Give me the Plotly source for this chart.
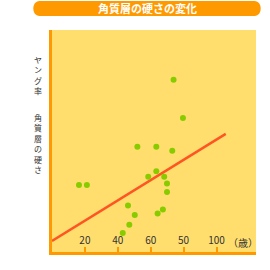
import plotly.graph_objects as go

# Data (age vs. stiffness, arbitrary units)
age = [73.9, 79.6, 51.9, 63.4, 73.1, 63.4, 58.5, 68.2, 69.9, 69.9,
       16.4, 21.2, 46.2, 50.3, 47.0, 43.0, 67.4, 64.2]
stiffness = [77.6, 60.4, 47.4, 47.4, 45.6, 36.4, 33.9, 33.9, 30.8, 27.0,
             30.2, 30.2, 21.0, 16.7, 12.3, 8.6, 19.1, 17.3]
trend_x = [0.0, 105.6]
trend_y = [5.0, 53.2]
tick_vals = [20, 40, 60, 80, 100]
tick_text = ["20", "40", "60", "50", "100"]
title = "角質層の硬さの変化"
ylabel_1 = "ヤング率"
ylabel_2 = "角質層の硬さ"
unit = "（歳）"

ORANGE = "#FF9900"
FONT = "Noto Sans CJK JP"

fig = go.Figure()
fig.add_trace(go.Scatter(x=trend_x, y=trend_y, mode="lines",
                         line=dict(color="#FF5522", width=2.5), hoverinfo="skip"))
fig.add_trace(go.Scatter(x=age, y=stiffness, mode="markers",
                         marker=dict(color="#88CC00", size=6, line=dict(width=0))))

W = 270.0
def px(x):
    return x / W
def py(y):
    return 1 - y / W

# Title pill
x0, x1, yt, yb, r = 32, 262, 1, 16, 7.5
path = (f"M {px(x0+r)},{py(yt)} L {px(x1-r)},{py(yt)} "
        f"C {px(x1+r*0.1)},{py(yt)} {px(x1+r*0.1)},{py(yb)} {px(x1-r)},{py(yb)} "
        f"L {px(x0+r)},{py(yb)} "
        f"C {px(x0-r*0.1)},{py(yb)} {px(x0-r*0.1)},{py(yt)} {px(x0+r)},{py(yt)} Z")
fig.add_shape(type="path", path=path, xref="paper", yref="paper",
              fillcolor=ORANGE, line=dict(width=0), layer="above")

annotations = [
    dict(text="<b>" + title + "</b>", x=px(147), y=py(8.5), xref="paper", yref="paper",
         showarrow=False, font=dict(family=FONT, size=11, color="white"),
         xanchor="center", yanchor="middle"),
    dict(text=unit, x=px(243), y=py(242), xref="paper", yref="paper",
         showarrow=False, font=dict(family=FONT, size=10, color="#333333"),
         xanchor="center", yanchor="middle"),
    dict(text="<br>".join(ylabel_1), x=px(38), y=py(52), xref="paper", yref="paper",
         showarrow=False, font=dict(family=FONT, size=8, color="#333333"),
         xanchor="center", yanchor="top"),
    dict(text="<br>".join(ylabel_2), x=px(38), y=py(110), xref="paper", yref="paper",
         showarrow=False, font=dict(family=FONT, size=8, color="#333333"),
         xanchor="center", yanchor="top"),
]

fig.update_layout(
    width=270, height=270, margin=dict(l=0, r=0, t=0, b=0),
    paper_bgcolor="white", plot_bgcolor="#FFDE6E",
    showlegend=False, annotations=annotations,
    font=dict(family=FONT, size=10, color="#333333"),
    xaxis=dict(domain=[px(52), px(256)], range=[0, 124], showgrid=False, zeroline=False,
               showline=True, linecolor=ORANGE, linewidth=3,
               tickvals=tick_vals, ticktext=tick_text, ticks="inside", ticklen=5,
               tickwidth=2, tickcolor=ORANGE, ticklabelposition="inside",
               tickfont=dict(family=FONT, size=10, color="#333333")),
    yaxis=dict(domain=[1 - 252 / W, 1 - 30 / W], range=[0, 100], showgrid=False, zeroline=False,
               showline=True, linecolor=ORANGE, linewidth=3, showticklabels=False, ticks=""),
)

fig.write_html("out.html")
